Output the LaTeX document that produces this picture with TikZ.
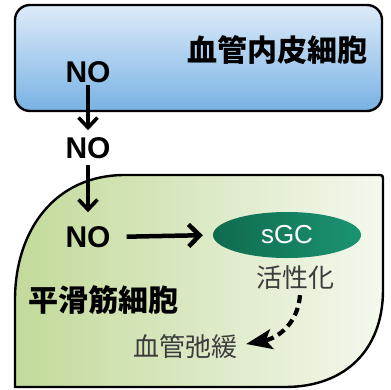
\documentclass[tikz,border=0pt]{standalone}
\usepackage{fontspec}
\setmainfont{Liberation Sans}
\newfontfamily\jp{Noto Sans CJK JP}
\usetikzlibrary{arrows.meta,calc,shapes.geometric}
\definecolor{bluetop}{HTML}{DDEBF9}
\definecolor{bluebot}{HTML}{78B2E4}
\definecolor{greenL}{HTML}{C2DA9A}
\definecolor{greenR}{HTML}{F4F8EE}
\definecolor{sgcL}{HTML}{0F6A4E}
\definecolor{sgcR}{HTML}{1B9472}
\definecolor{txtgray}{HTML}{3C3C3C}
\tikzset{
  notext/.style={font=\fontsize{30}{30}\selectfont\bfseries, inner sep=0pt},
  titletext/.style={font=\fontsize{30}{30}\selectfont\jp\bfseries, inner sep=0pt},
  graytext/.style={font=\fontsize{26}{26}\selectfont\jp, text=txtgray, inner sep=0pt},
  solidarrow/.style={line width=4.5pt, -{Straight Barb[length=11pt,width=22pt,line width=4.5pt]}},
  vertarrow/.style={line width=3.6pt, -{Straight Barb[length=10pt,width=19pt,line width=3.6pt]}},
  dasharrow/.style={line width=4.2pt, dash pattern=on 8pt off 5pt, -{Stealth[length=26pt,width=20pt,inset=6pt]}},
  cellline/.style={draw=black, line width=2.4pt}
}
\begin{document}
\begin{tikzpicture}[x=1pt,y=-1pt]
\useasboundingbox (0,0) rectangle (391,389);
% endothelial cell box
\path[cellline, top color=bluetop, bottom color=bluebot, rounded corners=15pt]
  (15,5) rectangle (382,111);
% smooth muscle cell shape
\path[cellline, left color=greenL, right color=greenR]
  (15,387) -- (15,300) .. controls (15,230) and (55,175) .. (125,175)
  -- (380,175) .. controls (382,175) and (383,176) .. (383,178)
  -- (383,290) .. controls (383,350) and (345,387) .. (285,387) -- cycle;
% texts
\node[titletext] (endo) at (277,50) {血管内皮細胞};
\node[notext] (no1) at (88,72) {NO};
\node[notext] (no2) at (88,148) {NO};
\node[notext] (no3) at (88,237) {NO};
\node[ellipse, minimum width=148pt, minimum height=46pt, inner sep=0pt,
      left color=sgcL, right color=sgcR, text=white,
      font=\fontsize{26}{26}\selectfont] (sgc) at (287,235) {sGC};
\node[graytext] (act) at (295,278) {活性化};
\node[titletext] (smc) at (103,300) {平滑筋細胞};
\node[graytext] (relax) at (185,347) {血管弛緩};
% arrows
\draw[vertarrow, shorten <=2pt, shorten >=7pt] (no1.south) -- (no2.north);
\draw[vertarrow, shorten <=6pt, shorten >=14pt] (no2.south) -- (no3.north);
\draw[solidarrow, shorten <=16pt, shorten >=10pt] (no3.east) -- (sgc.west);
\coordinate (dstart) at ($(act.south -| act.center)+(5,5)$);
\coordinate (dend) at ($(relax.east)+(9,-3)$);
\draw[dasharrow] (dstart) .. controls ($(dstart)+(-2,28)$) and ($(dend)+(32,-6)$) .. (dend);
\end{tikzpicture}
\end{document}
